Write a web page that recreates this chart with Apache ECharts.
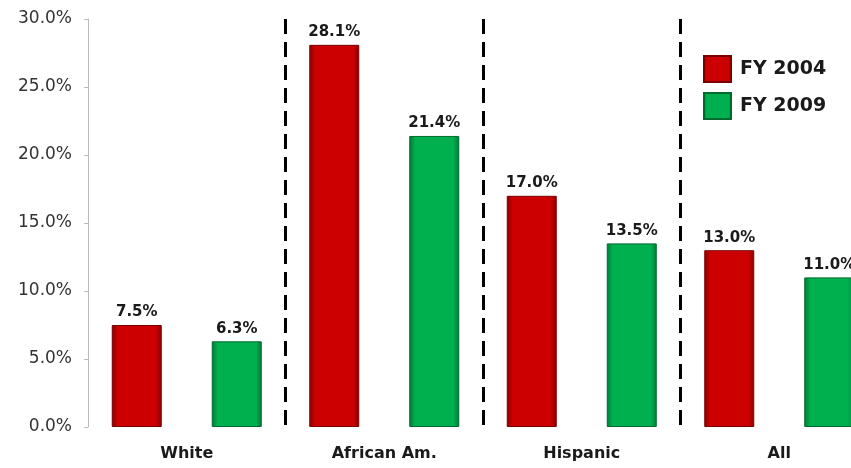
<!DOCTYPE html>
<html>
<head>
<meta charset="utf-8">
<script src="https://cdn.jsdelivr.net/npm/echarts@6/dist/echarts.min.js"></script>
<style>
  html, body { margin: 0; padding: 0; background: #fff; overflow: hidden; }
  /* the original picture is cut off on the right, so the chart is a bit wider than the window */
  #container { width: 878px; height: 468px; }
</style>
</head>
<body>
<div id="container"></div>
<script>
/* data */
const categories = ['White', 'African Am.', 'Hispanic', 'All'];
const fy2004 = [7.5, 28.1, 17.0, 13.0];
const fy2009 = [6.3, 21.4, 13.5, 11.0];
const seriesNames = ['FY 2004', 'FY 2009'];

// bar fill with darker sides, looks like the old 3D bevel
function bevel(mid, edge) {
    return new echarts.graphic.LinearGradient(0, 0, 1, 0, [
        {offset: 0, color: edge},
        {offset: 0.12, color: mid},
        {offset: 0.88, color: mid},
        {offset: 1, color: edge}
    ]);
}

const dom = document.getElementById('container');
const myChart = echarts.init(dom);
const font = 'DejaVu Sans, Verdana, sans-serif';

function barLabel() {
    return {
        show: true,
        position: 'top',
        distance: 5,
        fontSize: 15,
        fontWeight: 'bold',
        color: '#1a1a1a',
        formatter: p => p.value.toFixed(1) + '%'
    };
}

const option = {
    animation: false,
    textStyle: {fontFamily: font},
    grid: {left: 88, right: 0, top: 19, bottom: 41, containLabel: false},
    legend: {
        orient: 'vertical',
        left: 698,
        top: 50,
        itemWidth: 27,
        itemHeight: 26,
        itemGap: 9,
        icon: 'rect',
        textStyle: {fontSize: 19, fontWeight: 'bold', color: '#1a1a1a', fontFamily: font, padding: [0, 0, 0, 4]}
    },
    xAxis: {
        type: 'category',
        data: categories,
        axisLine: {show: false},
        axisTick: {show: false},
        axisLabel: {fontSize: 16, fontWeight: 'bold', color: '#1a1a1a', margin: 19},
        splitLine: {
            show: true,
            interval: function (index) { return index > 0; }, // skip the left edge
            lineStyle: {color: '#000', width: 3, type: [15, 8]}
        }
    },
    yAxis: {
        type: 'value',
        min: 0,
        max: 30,
        interval: 5,
        axisLine: {show: true, lineStyle: {color: '#bbb'}},
        axisTick: {show: true, inside: false, length: 4, lineStyle: {color: '#bbb'}},
        splitLine: {show: false},
        axisLabel: {
            fontSize: 17,
            color: '#333',
            margin: 16,
            formatter: v => v.toFixed(1) + '%'
        }
    },
    series: [
        {
            name: seriesNames[0],
            type: 'bar',
            data: fy2004,
            barWidth: 50,
            barGap: '100%',
            itemStyle: {
                color: bevel('#cc0000', '#8a0000'),
                borderColor: '#7a0000',
                borderWidth: 1
            },
            label: barLabel()
        },
        {
            name: seriesNames[1],
            type: 'bar',
            data: fy2009,
            barWidth: 50,
            barGap: '100%',
            itemStyle: {
                color: bevel('#00b04f', '#007a36'),
                borderColor: '#006a2e',
                borderWidth: 1
            },
            label: barLabel()
        }
    ]
};

myChart.setOption(option, true);
</script>
</body>
</html>
